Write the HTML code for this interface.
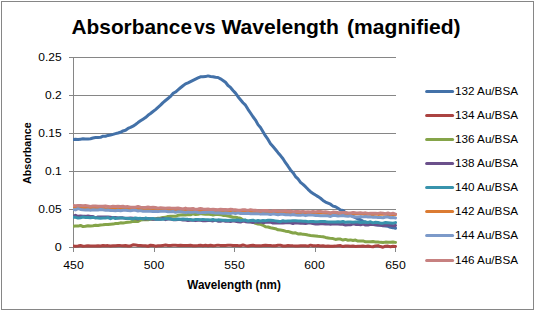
<!DOCTYPE html>
<html><head><meta charset="utf-8"><style>
html,body{margin:0;padding:0;background:#fff;}
svg{display:block;font-family:"Liberation Sans", sans-serif;}
</style></head><body>
<svg width="535" height="311" viewBox="0 0 535 311">
<rect x="1.5" y="1.5" width="532" height="308" fill="#fff" stroke="#868686" stroke-width="1"/>
<line x1="69" y1="57.5" x2="396" y2="57.5" stroke="#868686" stroke-width="1"/>
<line x1="69" y1="95.5" x2="396" y2="95.5" stroke="#868686" stroke-width="1"/>
<line x1="69" y1="133.5" x2="396" y2="133.5" stroke="#868686" stroke-width="1"/>
<line x1="69" y1="171.5" x2="396" y2="171.5" stroke="#868686" stroke-width="1"/>
<line x1="69" y1="209.5" x2="396" y2="209.5" stroke="#868686" stroke-width="1"/>
<line x1="69" y1="247.5" x2="396" y2="247.5" stroke="#868686" stroke-width="1"/>
<line x1="73.5" y1="57" x2="73.5" y2="252" stroke="#868686" stroke-width="1"/>
<line x1="73.5" y1="247" x2="73.5" y2="252" stroke="#868686" stroke-width="1"/>
<line x1="154.5" y1="247" x2="154.5" y2="252" stroke="#868686" stroke-width="1"/>
<line x1="234.5" y1="247" x2="234.5" y2="252" stroke="#868686" stroke-width="1"/>
<line x1="315.5" y1="247" x2="315.5" y2="252" stroke="#868686" stroke-width="1"/>
<line x1="395.5" y1="247" x2="395.5" y2="252" stroke="#868686" stroke-width="1"/>
<clipPath id="pc"><rect x="73" y="50" width="324" height="210"/></clipPath><g clip-path="url(#pc)">
<polyline points="73.0,139.56 75.5,139.37 78.0,139.48 80.5,139.19 83.0,138.86 85.5,138.97 88.0,139.07 90.5,138.75 93.0,138.01 95.5,137.56 98.0,137.43 100.5,137.26 103.0,136.13 105.5,136.28 108.0,135.43 110.5,134.97 113.0,134.35 115.5,133.66 118.0,133.04 120.5,132.31 123.0,130.94 125.5,130.28 128.0,128.46 130.5,127.45 133.0,126.20 135.5,124.45 138.0,122.59 140.5,120.85 143.0,119.21 145.5,117.57 148.0,115.28 150.5,113.53 153.0,111.49 155.5,109.59 158.0,107.33 160.5,105.17 163.0,102.61 165.5,100.49 168.0,98.48 170.5,96.43 173.0,93.37 175.5,92.04 178.0,89.90 180.5,87.74 183.0,85.72 185.5,83.83 188.0,82.80 190.5,81.57 193.0,80.31 195.5,79.12 198.0,77.98 200.5,76.83 203.0,76.70 205.5,76.59 208.0,75.88 210.5,76.46 213.0,76.74 215.5,77.31 218.0,77.51 220.5,78.80 223.0,80.43 225.5,82.22 228.0,85.47 230.5,87.42 233.0,90.44 235.5,93.14 238.0,96.69 240.5,99.71 243.0,102.72 245.5,105.19 248.0,109.30 250.5,113.03 253.0,116.78 255.5,120.05 258.0,124.62 260.5,127.57 263.0,131.66 265.5,135.98 268.0,139.46 270.5,143.66 273.0,146.53 275.5,149.51 278.0,152.69 280.5,155.59 283.0,158.75 285.5,162.73 288.0,166.22 290.5,169.92 293.0,172.65 295.5,176.55 298.0,178.94 300.5,182.31 303.0,184.34 305.5,186.71 308.0,189.31 310.5,191.69 313.0,193.43 315.5,195.09 318.0,196.62 320.5,198.26 323.0,200.40 325.5,202.04 328.0,203.12 330.5,204.23 333.0,206.15 335.5,206.82 338.0,208.29 340.5,209.99 343.0,210.44 345.5,212.56 348.0,213.58 350.5,215.09 353.0,216.30 355.5,217.62 358.0,218.94 360.5,219.62 363.0,221.32 365.5,222.06 368.0,222.95 370.5,223.79 373.0,224.31 375.5,224.84 378.0,225.05 380.5,225.00 383.0,225.77 385.5,225.98 388.0,226.24 390.5,227.27 393.0,227.67 395.5,228.31" fill="none" stroke="#4371A8" stroke-width="3" stroke-linejoin="round" stroke-linecap="round"/>
<polyline points="73.0,246.09 75.5,246.22 78.0,246.05 80.5,245.55 83.0,246.19 85.5,246.04 88.0,245.72 90.5,246.04 93.0,245.96 95.5,245.93 98.0,245.83 100.5,245.97 103.0,245.57 105.5,245.73 108.0,245.62 110.5,245.93 113.0,245.75 115.5,245.64 118.0,245.48 120.5,245.62 123.0,245.69 125.5,245.60 128.0,246.06 130.5,245.96 133.0,244.83 135.5,245.07 138.0,245.57 140.5,245.49 143.0,245.67 145.5,245.67 148.0,246.23 150.5,245.25 153.0,245.46 155.5,246.18 158.0,245.76 160.5,245.76 163.0,245.40 165.5,245.05 168.0,245.59 170.5,245.57 173.0,245.16 175.5,245.32 178.0,245.50 180.5,245.24 183.0,245.49 185.5,245.54 188.0,245.52 190.5,245.36 193.0,245.68 195.5,245.77 198.0,245.60 200.5,245.26 203.0,245.72 205.5,245.35 208.0,245.77 210.5,245.18 213.0,245.78 215.5,245.50 218.0,245.13 220.5,245.42 223.0,245.53 225.5,245.60 228.0,245.23 230.5,245.19 233.0,245.59 235.5,245.39 238.0,245.61 240.5,245.77 243.0,245.05 245.5,245.63 248.0,245.93 250.5,245.48 253.0,245.33 255.5,245.80 258.0,245.66 260.5,245.86 263.0,245.50 265.5,245.17 268.0,245.59 270.5,245.50 273.0,245.87 275.5,245.71 278.0,245.17 280.5,245.31 283.0,245.95 285.5,245.90 288.0,245.51 290.5,245.72 293.0,245.86 295.5,245.88 298.0,246.02 300.5,245.85 303.0,245.75 305.5,245.72 308.0,246.13 310.5,245.15 313.0,245.80 315.5,245.87 318.0,245.45 320.5,245.99 323.0,245.71 325.5,246.18 328.0,245.90 330.5,246.16 333.0,246.34 335.5,246.11 338.0,245.75 340.5,245.58 343.0,246.58 345.5,246.04 348.0,245.89 350.5,246.16 353.0,246.08 355.5,246.41 358.0,246.19 360.5,246.20 363.0,246.01 365.5,246.39 368.0,245.96 370.5,246.49 373.0,246.77 375.5,245.88 378.0,245.62 380.5,246.57 383.0,247.18 385.5,246.14 388.0,246.09 390.5,246.67 393.0,246.27 395.5,246.39" fill="none" stroke="#AB4341" stroke-width="3" stroke-linejoin="round" stroke-linecap="round"/>
<polyline points="73.0,226.36 75.5,226.11 78.0,226.10 80.5,225.43 83.0,226.62 85.5,226.32 88.0,225.76 90.5,225.96 93.0,225.67 95.5,225.26 98.0,225.54 100.5,224.97 103.0,224.76 105.5,224.41 108.0,224.55 110.5,224.15 113.0,224.09 115.5,223.49 118.0,223.44 120.5,222.86 123.0,223.09 125.5,222.60 128.0,222.33 130.5,222.05 133.0,221.30 135.5,221.51 138.0,221.57 140.5,220.12 143.0,219.75 145.5,219.47 148.0,219.83 150.5,219.26 153.0,219.19 155.5,218.73 158.0,218.22 160.5,217.89 163.0,217.40 165.5,217.37 168.0,216.43 170.5,216.32 173.0,216.20 175.5,216.37 178.0,215.32 180.5,214.95 183.0,214.86 185.5,215.09 188.0,214.52 190.5,214.81 193.0,213.70 195.5,214.47 198.0,214.35 200.5,213.56 203.0,214.00 205.5,214.33 208.0,214.04 210.5,214.40 213.0,214.94 215.5,214.49 218.0,214.54 220.5,214.66 223.0,215.41 225.5,215.52 228.0,215.95 230.5,216.45 233.0,217.20 235.5,217.26 238.0,217.74 240.5,218.12 243.0,219.89 245.5,220.25 248.0,221.41 250.5,221.70 253.0,222.24 255.5,223.36 258.0,223.96 260.5,224.36 263.0,225.23 265.5,226.76 268.0,227.05 270.5,227.77 273.0,228.23 275.5,228.74 278.0,229.82 280.5,230.10 283.0,230.45 285.5,231.16 288.0,231.43 290.5,232.23 293.0,232.97 295.5,232.83 298.0,233.93 300.5,233.71 303.0,234.36 305.5,234.45 308.0,235.01 310.5,235.46 313.0,235.68 315.5,235.95 318.0,236.31 320.5,236.60 323.0,236.70 325.5,237.41 328.0,237.92 330.5,238.38 333.0,238.59 335.5,239.42 338.0,239.05 340.5,239.08 343.0,240.04 345.5,239.41 348.0,240.25 350.5,239.90 353.0,240.51 355.5,240.02 358.0,241.08 360.5,240.95 363.0,240.89 365.5,241.85 368.0,241.73 370.5,241.67 373.0,241.57 375.5,241.91 378.0,241.99 380.5,242.36 383.0,242.48 385.5,242.12 388.0,242.23 390.5,242.30 393.0,242.11 395.5,242.38" fill="none" stroke="#85A449" stroke-width="3" stroke-linejoin="round" stroke-linecap="round"/>
<polyline points="73.0,216.56 75.5,215.28 78.0,216.27 80.5,216.07 83.0,216.20 85.5,216.37 88.0,215.93 90.5,216.56 93.0,216.47 95.5,217.82 98.0,216.98 100.5,216.90 103.0,217.02 105.5,217.00 108.0,216.98 110.5,217.27 113.0,217.62 115.5,217.50 118.0,217.95 120.5,217.69 123.0,217.85 125.5,218.40 128.0,218.19 130.5,217.96 133.0,218.15 135.5,218.45 138.0,218.96 140.5,218.39 143.0,218.48 145.5,218.94 148.0,218.46 150.5,218.73 153.0,219.17 155.5,219.16 158.0,219.10 160.5,219.36 163.0,218.39 165.5,219.63 168.0,219.12 170.5,218.99 173.0,219.66 175.5,219.87 178.0,219.60 180.5,219.50 183.0,219.91 185.5,219.97 188.0,220.48 190.5,220.37 193.0,220.28 195.5,220.63 198.0,220.32 200.5,220.18 203.0,220.71 205.5,220.79 208.0,220.62 210.5,220.53 213.0,220.91 215.5,220.17 218.0,221.20 220.5,221.21 223.0,220.65 225.5,221.23 228.0,221.00 230.5,221.59 233.0,220.82 235.5,221.23 238.0,221.79 240.5,222.00 243.0,221.07 245.5,221.64 248.0,221.96 250.5,221.75 253.0,222.48 255.5,221.71 258.0,222.24 260.5,221.89 263.0,222.69 265.5,222.33 268.0,222.29 270.5,221.96 273.0,223.04 275.5,222.83 278.0,222.90 280.5,223.08 283.0,222.90 285.5,222.67 288.0,222.69 290.5,222.75 293.0,223.46 295.5,222.68 298.0,223.00 300.5,223.14 303.0,223.37 305.5,223.53 308.0,223.05 310.5,222.96 313.0,223.54 315.5,223.96 318.0,223.88 320.5,223.78 323.0,223.68 325.5,223.92 328.0,223.81 330.5,224.19 333.0,223.76 335.5,224.10 338.0,224.08 340.5,224.33 343.0,224.29 345.5,225.04 348.0,224.78 350.5,224.83 353.0,223.82 355.5,224.38 358.0,224.35 360.5,224.75 363.0,223.96 365.5,225.04 368.0,225.06 370.5,224.40 373.0,224.55 375.5,224.65 378.0,224.95 380.5,225.18 383.0,225.65 385.5,225.02 388.0,225.36 390.5,225.22 393.0,225.75 395.5,225.49" fill="none" stroke="#6B508B" stroke-width="3" stroke-linejoin="round" stroke-linecap="round"/>
<polyline points="73.0,217.16 75.5,217.35 78.0,217.95 80.5,217.70 83.0,217.06 85.5,217.59 88.0,217.46 90.5,217.73 93.0,217.25 95.5,217.86 98.0,217.90 100.5,218.35 103.0,218.02 105.5,218.12 108.0,217.57 110.5,218.74 113.0,217.53 115.5,218.48 118.0,218.10 120.5,217.98 123.0,218.10 125.5,218.14 128.0,218.50 130.5,218.40 133.0,218.92 135.5,217.97 138.0,218.56 140.5,218.34 143.0,218.89 145.5,218.06 148.0,218.64 150.5,218.85 153.0,218.39 155.5,219.17 158.0,218.98 160.5,219.27 163.0,219.30 165.5,218.76 168.0,218.86 170.5,219.08 173.0,219.41 175.5,219.48 178.0,219.06 180.5,219.13 183.0,219.12 185.5,219.23 188.0,219.37 190.5,219.45 193.0,220.15 195.5,219.42 198.0,219.53 200.5,219.80 203.0,219.42 205.5,219.63 208.0,219.79 210.5,220.06 213.0,219.48 215.5,220.32 218.0,219.85 220.5,220.05 223.0,220.29 225.5,220.28 228.0,220.44 230.5,220.21 233.0,220.20 235.5,220.34 238.0,219.99 240.5,220.69 243.0,220.14 245.5,220.03 248.0,221.07 250.5,220.45 253.0,220.18 255.5,221.13 258.0,220.51 260.5,220.97 263.0,220.44 265.5,220.66 268.0,220.27 270.5,220.24 273.0,220.56 275.5,220.87 278.0,221.17 280.5,221.70 283.0,220.70 285.5,221.35 288.0,220.91 290.5,221.08 293.0,220.72 295.5,220.76 298.0,221.01 300.5,220.92 303.0,221.32 305.5,221.15 308.0,221.77 310.5,221.48 313.0,221.52 315.5,221.85 318.0,221.70 320.5,221.57 323.0,221.60 325.5,221.62 328.0,222.02 330.5,221.97 333.0,221.88 335.5,222.05 338.0,221.68 340.5,222.04 343.0,221.50 345.5,222.36 348.0,222.02 350.5,222.09 353.0,222.25 355.5,222.10 358.0,222.06 360.5,222.53 363.0,222.25 365.5,221.97 368.0,222.42 370.5,221.81 373.0,222.85 375.5,222.34 378.0,222.44 380.5,223.14 383.0,223.14 385.5,222.57 388.0,222.75 390.5,222.93 393.0,223.14 395.5,222.63" fill="none" stroke="#3893AC" stroke-width="3" stroke-linejoin="round" stroke-linecap="round"/>
<polyline points="73.0,207.29 75.5,207.20 78.0,207.59 80.5,207.85 83.0,208.13 85.5,207.89 88.0,207.76 90.5,207.75 93.0,208.27 95.5,208.60 98.0,208.26 100.5,207.87 103.0,208.02 105.5,208.85 108.0,208.49 110.5,207.97 113.0,208.53 115.5,208.27 118.0,208.49 120.5,208.60 123.0,208.59 125.5,209.03 128.0,208.91 130.5,208.82 133.0,209.18 135.5,209.36 138.0,208.68 140.5,209.16 143.0,209.00 145.5,209.31 148.0,209.03 150.5,209.49 153.0,209.53 155.5,209.51 158.0,209.35 160.5,209.60 163.0,209.45 165.5,209.43 168.0,209.97 170.5,209.63 173.0,210.37 175.5,210.29 178.0,209.54 180.5,210.28 183.0,209.92 185.5,210.32 188.0,210.38 190.5,209.83 193.0,210.42 195.5,210.47 198.0,210.89 200.5,210.30 203.0,210.94 205.5,210.44 208.0,210.73 210.5,210.63 213.0,211.38 215.5,211.17 218.0,211.78 220.5,211.30 223.0,211.42 225.5,211.47 228.0,211.10 230.5,211.31 233.0,211.79 235.5,211.33 238.0,211.56 240.5,211.55 243.0,211.79 245.5,211.55 248.0,211.67 250.5,211.84 253.0,211.86 255.5,211.62 258.0,212.20 260.5,211.60 263.0,211.68 265.5,211.71 268.0,212.44 270.5,212.09 273.0,211.96 275.5,211.96 278.0,212.48 280.5,212.09 283.0,212.08 285.5,212.70 288.0,212.21 290.5,212.52 293.0,212.67 295.5,212.59 298.0,212.75 300.5,213.22 303.0,212.72 305.5,212.55 308.0,212.42 310.5,212.96 313.0,212.97 315.5,213.20 318.0,213.04 320.5,213.08 323.0,213.06 325.5,213.17 328.0,213.42 330.5,213.31 333.0,213.50 335.5,214.09 338.0,213.71 340.5,213.14 343.0,214.18 345.5,213.82 348.0,213.48 350.5,214.08 353.0,213.86 355.5,213.72 358.0,213.76 360.5,213.70 363.0,214.06 365.5,214.41 368.0,214.04 370.5,214.31 373.0,214.80 375.5,213.91 378.0,214.40 380.5,214.28 383.0,214.10 385.5,214.15 388.0,214.50 390.5,214.68 393.0,214.44 395.5,214.66" fill="none" stroke="#DB7B32" stroke-width="3" stroke-linejoin="round" stroke-linecap="round"/>
<polyline points="73.0,209.61 75.5,209.88 78.0,208.64 80.5,209.42 83.0,209.83 85.5,209.99 88.0,209.84 90.5,210.15 93.0,209.84 95.5,209.98 98.0,209.93 100.5,209.61 103.0,209.74 105.5,210.16 108.0,209.93 110.5,210.55 113.0,210.61 115.5,210.83 118.0,210.34 120.5,210.82 123.0,210.19 125.5,210.28 128.0,210.61 130.5,210.73 133.0,210.23 135.5,210.25 138.0,210.93 140.5,210.63 143.0,211.31 145.5,211.13 148.0,211.16 150.5,211.19 153.0,211.46 155.5,211.21 158.0,211.64 160.5,211.22 163.0,211.37 165.5,211.30 168.0,211.74 170.5,211.64 173.0,211.43 175.5,212.35 178.0,211.71 180.5,211.84 183.0,212.06 185.5,212.53 188.0,212.02 190.5,212.34 193.0,212.22 195.5,211.82 198.0,212.56 200.5,212.69 203.0,212.38 205.5,212.51 208.0,212.13 210.5,212.19 213.0,212.59 215.5,212.96 218.0,212.70 220.5,212.99 223.0,213.26 225.5,213.06 228.0,213.27 230.5,213.60 233.0,212.86 235.5,213.52 238.0,212.80 240.5,213.56 243.0,213.56 245.5,213.40 248.0,213.31 250.5,213.68 253.0,213.64 255.5,213.86 258.0,213.62 260.5,214.13 263.0,213.72 265.5,214.01 268.0,214.05 270.5,214.61 273.0,213.85 275.5,214.25 278.0,214.79 280.5,214.31 283.0,214.20 285.5,214.73 288.0,214.63 290.5,215.03 293.0,214.57 295.5,214.98 298.0,215.19 300.5,215.37 303.0,214.80 305.5,215.63 308.0,215.00 310.5,214.88 313.0,215.12 315.5,215.52 318.0,215.45 320.5,215.75 323.0,215.84 325.5,215.86 328.0,215.76 330.5,216.45 333.0,215.31 335.5,215.52 338.0,215.96 340.5,215.81 343.0,215.49 345.5,216.09 348.0,216.18 350.5,215.74 353.0,216.81 355.5,217.01 358.0,217.06 360.5,216.61 363.0,216.88 365.5,216.58 368.0,217.05 370.5,216.86 373.0,217.25 375.5,217.10 378.0,217.59 380.5,217.60 383.0,217.80 385.5,217.02 388.0,217.03 390.5,217.77 393.0,217.55 395.5,217.92" fill="none" stroke="#7C9AC9" stroke-width="3" stroke-linejoin="round" stroke-linecap="round"/>
<polyline points="73.0,205.49 75.5,205.65 78.0,205.54 80.5,205.43 83.0,205.63 85.5,205.54 88.0,205.92 90.5,206.37 93.0,205.89 95.5,205.92 98.0,206.32 100.5,206.35 103.0,206.35 105.5,206.10 108.0,206.44 110.5,206.73 113.0,206.18 115.5,206.52 118.0,206.15 120.5,206.40 123.0,206.31 125.5,206.86 128.0,206.61 130.5,207.14 133.0,207.18 135.5,207.14 138.0,206.51 140.5,207.17 143.0,207.38 145.5,207.50 148.0,207.07 150.5,207.46 153.0,207.37 155.5,207.49 158.0,208.12 160.5,207.63 163.0,207.93 165.5,208.27 168.0,207.89 170.5,208.10 173.0,208.24 175.5,208.29 178.0,207.97 180.5,208.42 183.0,208.87 185.5,208.07 188.0,208.86 190.5,208.70 193.0,208.54 195.5,209.40 198.0,209.09 200.5,208.57 203.0,209.02 205.5,209.23 208.0,209.07 210.5,209.40 213.0,209.24 215.5,209.52 218.0,209.82 220.5,209.25 223.0,209.58 225.5,209.44 228.0,209.68 230.5,209.36 233.0,209.60 235.5,209.78 238.0,210.18 240.5,210.31 243.0,209.64 245.5,209.86 248.0,210.36 250.5,209.63 253.0,210.15 255.5,210.33 258.0,210.80 260.5,210.69 263.0,210.45 265.5,210.50 268.0,210.60 270.5,211.20 273.0,210.68 275.5,210.78 278.0,211.04 280.5,210.96 283.0,211.00 285.5,210.79 288.0,211.18 290.5,211.11 293.0,211.66 295.5,211.57 298.0,211.43 300.5,211.70 303.0,211.46 305.5,211.94 308.0,211.69 310.5,211.92 313.0,211.43 315.5,211.98 318.0,211.43 320.5,211.39 323.0,211.97 325.5,211.85 328.0,212.24 330.5,212.92 333.0,212.06 335.5,212.18 338.0,212.50 340.5,212.64 343.0,212.50 345.5,212.56 348.0,212.89 350.5,212.90 353.0,212.49 355.5,212.84 358.0,212.94 360.5,212.67 363.0,213.13 365.5,212.85 368.0,213.46 370.5,213.29 373.0,213.32 375.5,213.18 378.0,213.38 380.5,212.87 383.0,213.19 385.5,213.70 388.0,213.02 390.5,213.97 393.0,213.25 395.5,214.06" fill="none" stroke="#C78180" stroke-width="3" stroke-linejoin="round" stroke-linecap="round"/>
</g>
<text x="38.3" y="61.2" font-size="11.7" fill="#000" textLength="23.4" lengthAdjust="spacingAndGlyphs">0.25</text>
<text x="45.0" y="99.2" font-size="11.7" fill="#000" textLength="16.7" lengthAdjust="spacingAndGlyphs">0.2</text>
<text x="38.3" y="137.2" font-size="11.7" fill="#000" textLength="23.4" lengthAdjust="spacingAndGlyphs">0.15</text>
<text x="45.0" y="175.2" font-size="11.7" fill="#000" textLength="16.7" lengthAdjust="spacingAndGlyphs">0.1</text>
<text x="38.3" y="213.2" font-size="11.7" fill="#000" textLength="23.4" lengthAdjust="spacingAndGlyphs">0.05</text>
<text x="54.7" y="251.2" font-size="11.7" fill="#000" textLength="7.0" lengthAdjust="spacingAndGlyphs">0</text>
<text x="63.3" y="269" font-size="11.5" fill="#000" textLength="20.4" lengthAdjust="spacingAndGlyphs">450</text>
<text x="143.8" y="269" font-size="11.5" fill="#000" textLength="20.4" lengthAdjust="spacingAndGlyphs">500</text>
<text x="224.3" y="269" font-size="11.5" fill="#000" textLength="20.4" lengthAdjust="spacingAndGlyphs">550</text>
<text x="304.3" y="269" font-size="11.5" fill="#000" textLength="20.4" lengthAdjust="spacingAndGlyphs">600</text>
<text x="385.3" y="269" font-size="11.5" fill="#000" textLength="20.4" lengthAdjust="spacingAndGlyphs">650</text>
<text x="71.5" y="33.9" font-size="20.5" font-weight="bold" textLength="120.5" lengthAdjust="spacingAndGlyphs">Absorbance</text>
<text x="193.9" y="33.9" font-size="20.5" font-weight="bold" textLength="21.6" lengthAdjust="spacingAndGlyphs">vs</text>
<text x="221.4" y="33.9" font-size="20.5" font-weight="bold" textLength="117.5" lengthAdjust="spacingAndGlyphs">Wavelength</text>
<text x="347.1" y="33.9" font-size="20.5" font-weight="bold" textLength="113.5" lengthAdjust="spacingAndGlyphs">(magnified)</text>
<text x="187.3" y="289.3" font-size="12.2" font-weight="bold" textLength="93.6" lengthAdjust="spacingAndGlyphs">Wavelength (nm)</text>
<text transform="translate(31,184) rotate(-90)" x="0" y="0" font-size="11.8" font-weight="bold" textLength="61.7" lengthAdjust="spacingAndGlyphs">Absorbance</text>
<line x1="426.6" y1="91.50" x2="452.6" y2="91.50" stroke="#4371A8" stroke-width="3" stroke-linecap="round"/>
<text x="455" y="94.90" font-size="11.5" textLength="63" lengthAdjust="spacingAndGlyphs">132 Au/BSA</text>
<line x1="426.6" y1="115.50" x2="452.6" y2="115.50" stroke="#AB4341" stroke-width="3" stroke-linecap="round"/>
<text x="455" y="118.90" font-size="11.5" textLength="63" lengthAdjust="spacingAndGlyphs">134 Au/BSA</text>
<line x1="426.6" y1="139.50" x2="452.6" y2="139.50" stroke="#85A449" stroke-width="3" stroke-linecap="round"/>
<text x="455" y="142.90" font-size="11.5" textLength="63" lengthAdjust="spacingAndGlyphs">136 Au/BSA</text>
<line x1="426.6" y1="163.50" x2="452.6" y2="163.50" stroke="#6B508B" stroke-width="3" stroke-linecap="round"/>
<text x="455" y="166.90" font-size="11.5" textLength="63" lengthAdjust="spacingAndGlyphs">138 Au/BSA</text>
<line x1="426.6" y1="187.50" x2="452.6" y2="187.50" stroke="#3893AC" stroke-width="3" stroke-linecap="round"/>
<text x="455" y="190.90" font-size="11.5" textLength="63" lengthAdjust="spacingAndGlyphs">140 Au/BSA</text>
<line x1="426.6" y1="211.50" x2="452.6" y2="211.50" stroke="#DB7B32" stroke-width="3" stroke-linecap="round"/>
<text x="455" y="214.90" font-size="11.5" textLength="63" lengthAdjust="spacingAndGlyphs">142 Au/BSA</text>
<line x1="426.6" y1="235.50" x2="452.6" y2="235.50" stroke="#7C9AC9" stroke-width="3" stroke-linecap="round"/>
<text x="455" y="238.90" font-size="11.5" textLength="63" lengthAdjust="spacingAndGlyphs">144 Au/BSA</text>
<line x1="426.6" y1="260.50" x2="452.6" y2="260.50" stroke="#C78180" stroke-width="3" stroke-linecap="round"/>
<text x="455" y="263.90" font-size="11.5" textLength="63" lengthAdjust="spacingAndGlyphs">146 Au/BSA</text>
</svg>
</body></html>
